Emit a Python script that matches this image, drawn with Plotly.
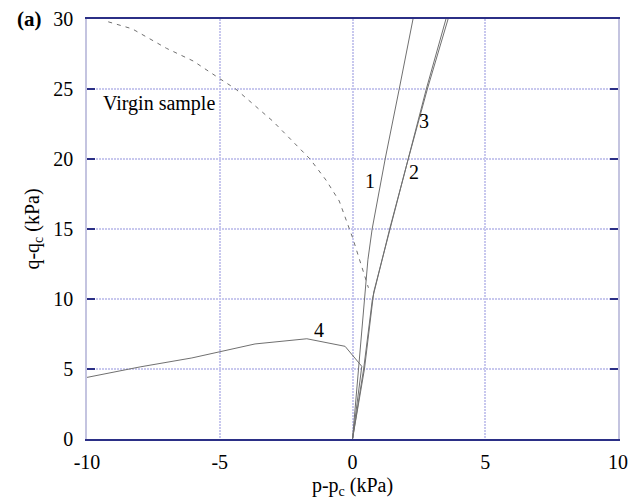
import plotly.graph_objects as go

# Virgin sample (dashed)
virgin_x = [-9.2, -8.3, -7.0, -6.0, -5.05, -4.4, -3.0, -1.6, -1.0, -0.5, 0.0, 0.2, 0.4, 0.6]
virgin_y = [29.8, 29.3, 27.9, 27.0, 25.8, 25.0, 22.7, 20.0, 18.5, 17.0, 14.4, 13.2, 12.1, 10.8]

# Path 1
p1_x = [0.0, 0.23, 0.45, 0.58, 0.74, 1.23, 1.76, 2.28]
p1_y = [0.0, 5.0, 10.0, 12.8, 15.0, 20.0, 25.0, 30.0]

# Path 2
p2_x = [0.0, 0.45, 0.80, 1.42, 2.09, 2.78, 3.52]
p2_y = [0.0, 5.0, 10.5, 15.0, 20.0, 25.0, 30.0]

# Path 3
p3_x = [0.0, 0.42, 0.75, 1.40, 2.10, 2.82, 3.60]
p3_y = [0.0, 5.0, 10.0, 15.0, 20.0, 25.0, 30.0]

# Path 4
p4_x = [0.0, 0.35, -0.28, -1.72, -3.67, -6.05, -8.0, -10.0]
p4_y = [0.0, 5.19, 6.62, 7.16, 6.79, 5.79, 5.15, 4.4]

labels = ["1", "2", "3", "4"]
label_x = [0.67, 2.3, 2.7, -1.25]
label_y = [18.4, 19.1, 22.7, 7.8]

x_ticks = [-10, -5, 0, 5, 10]
x_ticktext = ["-10", "-5", "0", "5", "10"]
y_ticks = [0, 5, 10, 15, 20, 25, 30]

FONT = "Liberation Serif, Times New Roman, serif"
LINE = "#707070"
FS = 20
GRID = "#c8c8ee"

fig = go.Figure()
fig.add_trace(go.Scatter(x=virgin_x, y=virgin_y, mode="lines",
                         line=dict(color=LINE, width=1, dash="4px,5px"), showlegend=False))
for xs, ys in [(p1_x, p1_y), (p2_x, p2_y), (p3_x, p3_y), (p4_x, p4_y)]:
    fig.add_trace(go.Scatter(x=xs, y=ys, mode="lines",
                             line=dict(color=LINE, width=1), showlegend=False))

for t, lx, ly in zip(labels, label_x, label_y):
    fig.add_annotation(x=lx, y=ly, text=t, showarrow=False,
                       font=dict(family=FONT, size=FS, color="black"))

fig.add_annotation(x=-9.47, y=24.0, text="Virgin sample", showarrow=False,
                   xanchor="left", font=dict(family=FONT, size=FS, color="black"))
fig.add_annotation(x=0.0, y=1.0, xref="paper", yref="paper", text="<b>(a)</b>",
                   showarrow=False, xanchor="right", yanchor="middle", xshift=-43,
                   font=dict(family=FONT, size=21, color="black"))

fig.update_layout(
    width=634, height=495,
    margin=dict(l=79, r=24, t=11, b=64, autoexpand=False),
    paper_bgcolor="white", plot_bgcolor="white",
    font=dict(family=FONT, size=FS, color="black"),
)
fig.update_xaxes(range=[-10, 10], tickvals=x_ticks, ticktext=x_ticktext, ticks="",
                 automargin=False, showline=True, ticklabelstandoff=4,
                 linecolor="#2b2f86", linewidth=1.5, mirror=True,
                 showgrid=True, gridcolor=GRID, gridwidth=2, griddash="2px,1px",
                 zeroline=False, tickfont=dict(size=FS),
                 title=dict(text="p-p<sub>c</sub> (kPa)", standoff=6,
                            font=dict(family=FONT, size=FS)))
fig.update_yaxes(range=[0, 30], tickvals=y_ticks, ticks="inside", ticklen=8,
                 automargin=False, tickcolor="#2b2f86", tickwidth=1.5,
                 ticklabelstandoff=8,
                 showline=True, linecolor="#c4c4e0", linewidth=1.5, mirror="ticks",
                 showgrid=True, gridcolor=GRID, gridwidth=2, griddash="2px,1px",
                 zeroline=False, tickfont=dict(size=FS),
                 title=dict(text="q-q<sub>c</sub> (kPa)", standoff=8,
                            font=dict(family=FONT, size=FS)))

fig.write_html("out.html")
